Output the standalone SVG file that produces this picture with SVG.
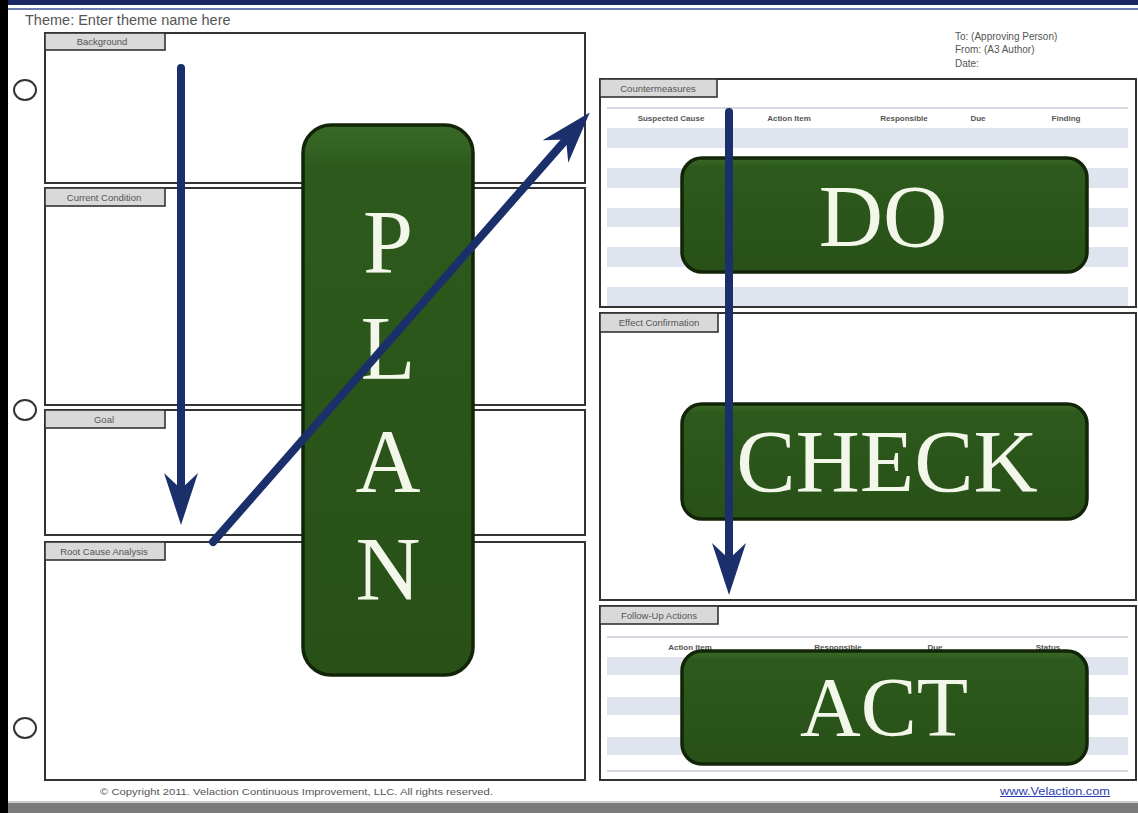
<svg xmlns="http://www.w3.org/2000/svg" width="1138" height="813" viewBox="0 0 1138 813">
<style>
.panel{fill:#ffffff;stroke:#333333;stroke-width:2}
.tab{fill:#d9d9d9;stroke:#333333;stroke-width:1.6}
.tabt{font-family:"Liberation Sans",Arial,sans-serif;font-size:9.5px;fill:#555555;text-anchor:middle}
.hdr{font-family:"Liberation Sans",Arial,sans-serif;font-size:8px;fill:#555555;text-anchor:middle;font-weight:bold}
.stripe{fill:#dfe4ee}
.rule{stroke:#c8ccd6;stroke-width:1.5}
.green{fill:url(#gg);stroke:#122508;stroke-width:3.5}
.big{font-family:"Liberation Serif","Times New Roman",serif;fill:#f2f7ea;text-anchor:middle}
.arrow{stroke:#1b2f6b;stroke-width:8;stroke-linecap:round;fill:none;marker-end:url(#ah)}
.small{font-family:"Liberation Sans",Arial,sans-serif;fill:#555555}
.hole{fill:#ffffff;stroke:#333333;stroke-width:2}
</style>
<defs>
<linearGradient id="gg" x1="0" y1="0" x2="0" y2="1">
<stop offset="0" stop-color="#3a6a27"/>
<stop offset="0.08" stop-color="#2d5a1c"/>
<stop offset="1" stop-color="#285017"/>
</linearGradient>
<marker id="ah" markerUnits="userSpaceOnUse" viewBox="-55 -20 60 40" markerWidth="60" markerHeight="40" refX="-30" refY="0" orient="auto" overflow="visible">
<path d="M0,0 L-52,-17 L-36,0 L-52,17 Z" fill="#1b2f6b"/>
</marker>
</defs>
<rect x="0" y="0" width="1138" height="813" fill="#ffffff"/>
<rect x="0" y="0" width="8" height="813" fill="#000000"/>
<rect x="8" y="0" width="1130" height="5" fill="#1a2763"/>
<line x1="8" y1="9" x2="1138" y2="9" stroke="#6b7bb0" stroke-width="2"/>
<rect x="8" y="803" width="1130" height="10" fill="#7a7a7a"/>
<line x1="8" y1="802" x2="1138" y2="802" stroke="#bdbdbd" stroke-width="1.5"/>

<g id="header">
<text x="25" y="25" class="small" font-size="14.5">Theme: Enter theme name here</text>
<text x="955" y="40" class="small" font-size="10">To: (Approving Person)</text>
<text x="955" y="53" class="small" font-size="10">From: (A3 Author)</text>
<text x="955" y="67" class="small" font-size="10">Date:</text>
</g>

<g id="holes">
<ellipse cx="25" cy="90" rx="11" ry="10" class="hole"/>
<ellipse cx="25" cy="410" rx="11" ry="10" class="hole"/>
<ellipse cx="25" cy="728" rx="11" ry="10" class="hole"/>
</g>

<g id="background">
<rect x="45" y="33" width="540" height="150" class="panel"/>
<rect x="45" y="33" width="120" height="17" class="tab"/>
<text x="102" y="45" class="tabt">Background</text>
</g>
<g id="current-condition">
<rect x="45" y="188" width="540" height="217" class="panel"/>
<rect x="45" y="188" width="120" height="18" class="tab"/>
<text x="104" y="201" class="tabt">Current Condition</text>
</g>
<g id="goal">
<rect x="45" y="410" width="540" height="125" class="panel"/>
<rect x="45" y="410" width="120" height="18" class="tab"/>
<text x="104" y="423" class="tabt">Goal</text>
</g>
<g id="root-cause-analysis">
<rect x="45" y="542" width="540" height="238" class="panel"/>
<rect x="45" y="542" width="120" height="18" class="tab"/>
<text x="104" y="555" class="tabt">Root Cause Analysis</text>
</g>

<g id="countermeasures">
<rect x="600" y="79" width="536" height="228" class="panel"/>
<line x1="607" y1="108" x2="1128" y2="108" class="rule"/>
<rect x="607" y="128" width="521" height="20" class="stripe"/>
<rect x="607" y="168" width="521" height="20" class="stripe"/>
<rect x="607" y="208" width="521" height="19" class="stripe"/>
<rect x="607" y="247" width="521" height="20" class="stripe"/>
<rect x="607" y="287" width="521" height="19" class="stripe"/>
<text x="671" y="121" class="hdr">Suspected Cause</text>
<text x="789" y="121" class="hdr">Action Item</text>
<text x="904" y="121" class="hdr">Responsible</text>
<text x="978" y="121" class="hdr">Due</text>
<text x="1066" y="121" class="hdr">Finding</text>
<rect x="600" y="79" width="117" height="18" class="tab"/>
<text x="658" y="92" class="tabt">Countermeasures</text>
</g>
<g id="effect-confirmation">
<rect x="600" y="313" width="536" height="287" class="panel"/>
<rect x="600" y="313" width="118" height="19" class="tab"/>
<text x="659" y="326" class="tabt">Effect Confirmation</text>
</g>
<g id="follow-up-actions">
<rect x="600" y="606" width="536" height="174" class="panel"/>
<line x1="607" y1="637" x2="1128" y2="637" class="rule"/>
<rect x="607" y="657" width="521" height="18" class="stripe"/>
<rect x="607" y="697" width="521" height="18" class="stripe"/>
<rect x="607" y="737" width="521" height="18" class="stripe"/>
<line x1="607" y1="771" x2="1128" y2="771" class="rule"/>
<text x="690" y="650" class="hdr">Action Item</text>
<text x="838" y="650" class="hdr">Responsible</text>
<text x="935" y="650" class="hdr">Due</text>
<text x="1048" y="650" class="hdr">Status</text>
<rect x="600" y="606" width="118" height="18" class="tab"/>
<text x="659" y="619" class="tabt">Follow-Up Actions</text>
</g>

<g id="plan">
<rect x="303" y="125" width="170" height="550" rx="28" class="green"/>
<text x="388" y="273" class="big" font-size="90">P</text>
<text x="388" y="379" class="big" font-size="90">L</text>
<text x="388" y="492" class="big" font-size="90">A</text>
<text x="388" y="600" class="big" font-size="90">N</text>
</g>
<g id="do">
<rect x="682" y="158" width="405" height="114" rx="20" class="green"/>
<text x="883" y="246" class="big" font-size="89">DO</text>
</g>
<g id="check">
<rect x="682" y="404" width="405" height="115" rx="20" class="green"/>
<text x="887" y="491" class="big" font-size="89">CHECK</text>
</g>
<g id="act">
<rect x="682" y="651" width="405" height="113" rx="20" class="green"/>
<text x="884" y="736" class="big" font-size="84">ACT</text>
</g>

<g id="connectors">
<line x1="181" y1="68" x2="181" y2="495" class="arrow"/>
<line x1="213" y1="542" x2="570" y2="135" class="arrow"/>
<line x1="729" y1="112" x2="729" y2="565" class="arrow"/>
</g>

<g id="footer">
<text x="100" y="795" class="small" font-size="9" textLength="393" lengthAdjust="spacingAndGlyphs">© Copyright 2011.  Velaction Continuous Improvement,  LLC. All rights reserved.</text>
<text x="1000" y="795" font-family="Liberation Sans, Arial, sans-serif" font-size="10" fill="#2a3cb0" text-decoration="underline" textLength="110" lengthAdjust="spacingAndGlyphs">www.Velaction.com</text>
</g>
</svg>
